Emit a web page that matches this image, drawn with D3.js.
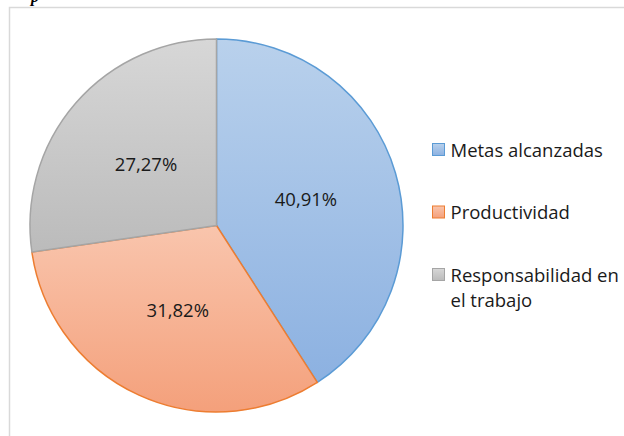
<!DOCTYPE html>
<html>
<head>
<meta charset="utf-8">
<script src="https://cdn.jsdelivr.net/npm/d3@7"></script>
<style>
  html, body { margin: 0; padding: 0; background: #fff; }
  svg { display: block; }
</style>
</head>
<body>
<svg id="chart" width="624" height="436"></svg>
<script>
// Distribución porcentual por criterio
const categories = ["Metas alcanzadas", "Productividad", "Responsabilidad en el trabajo"];
const values = [40.91, 31.82, 27.27];
const legendLines = [["Metas alcanzadas"], ["Productividad"], ["Responsabilidad en", "el trabajo"]];
const strokeColors = ["#5b9bd5", "#ed7d31", "#a5a5a5"];
const gradTop = ["#b9d1ec", "#f9c5ad", "#d7d7d7"];
const gradBottom = ["#8cb1e1", "#f4a07b", "#bbbbbb"];

const fontFamily = "'Open Sans', Lato, sans-serif";
const fontSize = 18.5;
const svg = d3.select("#chart");
const W = 624, H = 436;

// chart area frame (continues past the right and bottom edges)
svg.append("rect")
  .attr("x", 9.5).attr("y", 7.5)
  .attr("width", W + 20).attr("height", H + 20)
  .attr("fill", "#fff")
  .attr("stroke", "#d9d9d9")
  .attr("stroke-width", 1.5);

// caption fragment above the frame
svg.append("text")
  .attr("x", 31).attr("y", 2)
  .attr("font-family", "'Liberation Serif', serif")
  .attr("font-style", "italic")
  .attr("font-weight", "bold")
  .attr("font-size", 16)
  .attr("fill", "#000")
  .text("p");

// vertical gradients per slice
const defs = svg.append("defs");
categories.forEach((c, i) => {
  const g = defs.append("linearGradient")
    .attr("id", "grad" + i)
    .attr("x1", 0).attr("y1", 0).attr("x2", 0).attr("y2", 1);
  g.append("stop").attr("offset", "0%").attr("stop-color", gradTop[i]);
  g.append("stop").attr("offset", "100%").attr("stop-color", gradBottom[i]);
});

const cx = 216.5, cy = 225.5, R = 186.5;
const pie = d3.pie().sort(null).value(d => d);
const arc = d3.arc().innerRadius(0).outerRadius(R);
const arcs = pie(values);

const g = svg.append("g").attr("transform", `translate(${cx},${cy})`);
g.selectAll("path.slice")
  .data(arcs)
  .join("path")
  .attr("class", "slice")
  .attr("d", arc)
  .attr("fill", (d, i) => `url(#grad${i})`)
  .attr("stroke", (d, i) => strokeColors[i])
  .attr("stroke-width", 1.5)
  .attr("stroke-linejoin", "round");

const fmt = v => v.toFixed(2).replace(".", ",") + "%";
g.selectAll("text.lbl")
  .data(arcs)
  .join("text")
  .attr("class", "lbl")
  .attr("transform", d => `translate(${arc.centroid(d)})`)
  .attr("text-anchor", "middle")
  .attr("dy", "0.36em")
  .attr("font-family", fontFamily)
  .attr("font-size", fontSize)
  .attr("fill", "#1a1a1a")
  .text(d => fmt(d.data));

// legend
const legendX = 432, legendY0 = 143, legendStep = 62.5, box = 13;
const leg = svg.append("g");
legendLines.forEach((lines, i) => {
  const y = legendY0 + i * legendStep;
  leg.append("rect")
    .attr("x", legendX + 0.5).attr("y", y + 0.5)
    .attr("width", box - 1).attr("height", box - 1)
    .attr("fill", `url(#grad${i})`)
    .attr("stroke", strokeColors[i])
    .attr("stroke-width", 1);
  const t = leg.append("text")
    .attr("x", legendX + 18.5)
    .attr("y", y + 13.5)
    .attr("font-family", fontFamily)
    .attr("font-size", fontSize)
    .attr("fill", "#1a1a1a");
  lines.forEach((ln, k) => {
    t.append("tspan")
      .attr("x", legendX + 18.5)
      .attr("dy", k === 0 ? 0 : 25)
      .text(ln);
  });
});
</script>
</body>
</html>
